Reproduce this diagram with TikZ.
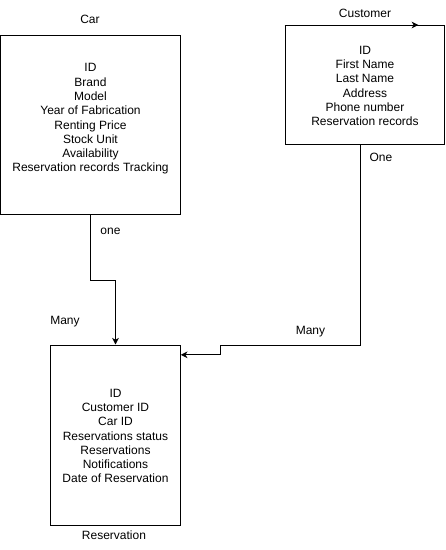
\documentclass[tikz,border=0pt]{standalone}
\usepackage{fontspec}
\setmainfont{Liberation Sans}
\usetikzlibrary{calc,arrows.meta,positioning}

\begin{document}
\begin{tikzpicture}[x=0.75pt,y=0.75pt,yscale=-1,xscale=1,
	entity/.style={draw,line width=0.75pt,inner sep=0pt},
	attr/.style={align=center,inner sep=0pt,font=\fontsize{9}{10.7}\selectfont},
	lbl/.style={inner sep=0pt,text height=6.5pt,text depth=1.9pt,font=\fontsize{9}{10.7}\selectfont},
	conn/.style={line width=0.75pt,-{Stealth[length=5pt,width=5pt,inset=1.5pt]}}]
			\useasboundingbox (0,0) rectangle (446,550);
			%Car
			\node[entity,minimum width=135pt,minimum height=134.25pt] (car) at (90.5,125) {};
			%Customer
			\node[entity,minimum width=119.6pt,minimum height=89.6pt] (cust) at (364.75,85.25) {};
			%Reservation
			\node[entity,minimum width=97.2pt,minimum height=135pt] (res) at (115.5,435) {};
			
			% Car attributes
			\node[attr] (carAttr) at (90.5,119) {ID\\Brand\\Model\\Year of Fabrication\\Renting Price\\Stock Unit\\Availability\\Reservation records Tracking};
			% Customer attributes
			\node[attr] (custAttr) at (365,86) {ID\\First Name\\Last Name\\Address\\Phone number\\Reservation records};
			% Reservation attributes
			\node[attr] (resAttr) at (115.5,436) {ID\\Customer ID\\Car ID\\Reservations status\\Reservations\\Notifications\\Date of Reservation};
			
			% Titles
			\node[lbl] (carTitle) at (90,20) {Car};
			\node[lbl] (custTitle) at (365,14) {Customer};
			\node[lbl] (resTitle) at (114,536) {Reservation};
			
			% Car - Reservation
			\draw[conn] (car.south) -- ++(0,65.5) -| (res.north);
			\node[lbl] (carOne) at (110.5,231) {one};
			\node[lbl] (carMany) at (65,321) {Many};
			
			% Customer - Reservation
			\coordinate (step) at (220.7,345.3);
			\draw[conn] ([xshift=-3pt]cust.south) |- (step) |- ($(res.north east)+(0,10.3)$);
			\node[lbl] (custOne) at (381,158) {One};
			\node[lbl] (custMany) at (310.5,331) {Many};
			
			% Pfeil oben
			\draw[conn] (cust.north west) -- ([xshift=-20pt]cust.north east);
			
\end{tikzpicture}
\end{document}
